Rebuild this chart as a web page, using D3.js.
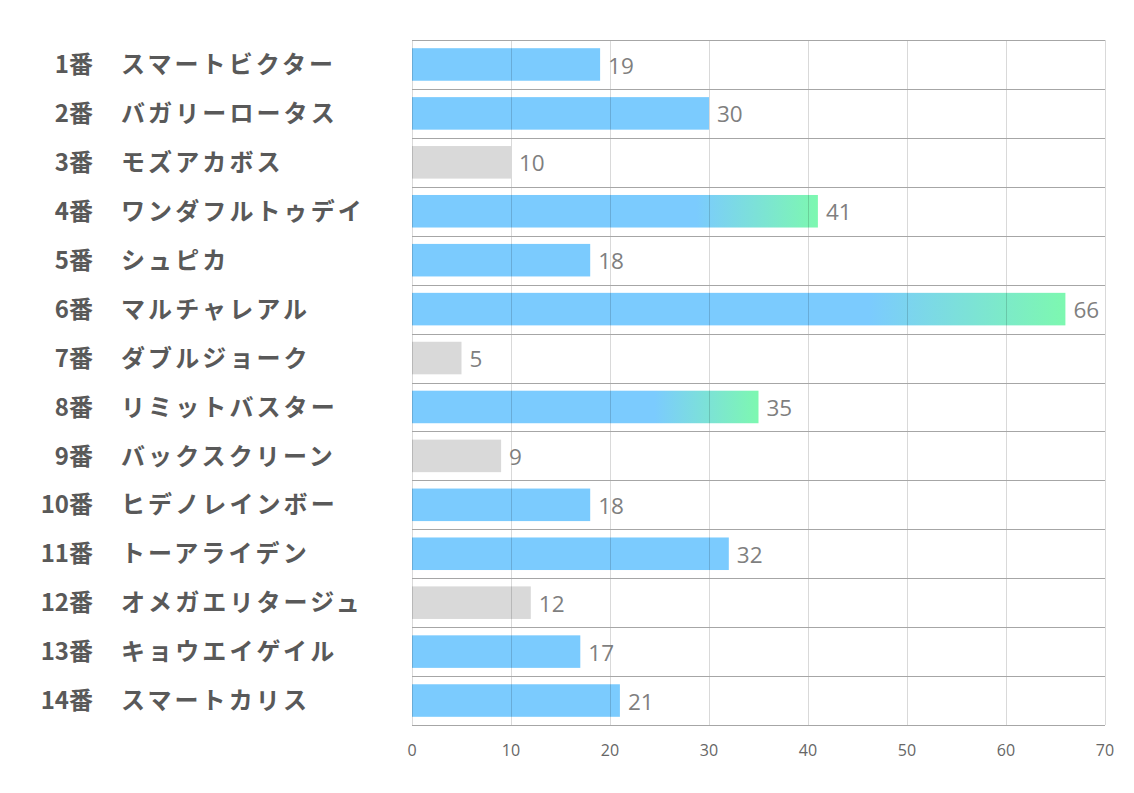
<!DOCTYPE html>
<html><head><meta charset="utf-8">
<script src="https://cdn.jsdelivr.net/npm/d3@7"></script>
<style>body{margin:0;background:#fff;} svg{display:block;}</style>
</head><body>
<svg id="chart" width="1134" height="793"></svg>
<script>
const numbers = ["1番","2番","3番","4番","5番","6番","7番","8番","9番","10番","11番","12番","13番","14番"];
const names = ["スマートビクター","バガリーロータス","モズアカボス","ワンダフルトゥデイ","シュピカ","マルチャレアル","ダブルジョーク","リミットバスター","バックスクリーン","ヒデノレインボー","トーアライデン","オメガエリタージュ","キョウエイゲイル","スマートカリス"];
const values = [19,30,10,41,18,66,5,35,9,18,32,12,17,21];
const barTypes = ["blue","blue","gray","grad","blue","grad","gray","grad","gray","blue","blue","gray","blue","blue"];
const xTicks = [0,10,20,30,40,50,60,70];

const svg = d3.select("#chart");
const L = 412, R = 1105, T = 40, B = 725;
const x = d3.scaleLinear().domain([0,70]).range([L,R]);
const y = d3.scaleBand().domain(d3.range(values.length)).range([T,B]).paddingInner(0.335).paddingOuter(0.1675);
const rows = d3.scaleBand().domain(d3.range(values.length)).range([T,B]);

const defs = svg.append("defs");
const grad = defs.append("linearGradient").attr("id","g").attr("x1","0").attr("x2","1").attr("y1","0").attr("y2","0");
grad.append("stop").attr("offset","0.7").attr("stop-color","#7bcbfe");
grad.append("stop").attr("offset","1").attr("stop-color","#7df8b0");

const colorFor = t => t==="gray" ? "#d9d9d9" : t==="grad" ? "url(#g)" : "#7bcbfe";

// bars
svg.append("g").selectAll("rect").data(values).join("rect")
  .attr("x", x(0)).attr("y",(d,i)=>y(i))
  .attr("width", d=>x(d)-x(0)).attr("height", y.bandwidth())
  .attr("fill",(d,i)=>colorFor(barTypes[i]));

// vertical gridlines
svg.append("g").selectAll("line").data(xTicks).join("line")
  .attr("x1",d=>x(d)).attr("x2",d=>x(d)).attr("y1",T).attr("y2",B)
  .attr("stroke","rgba(0,0,0,0.15)").attr("stroke-width",1).attr("shape-rendering","crispEdges");

// horizontal separators
const seps = d3.range(values.length+1).map(i=> i<values.length ? rows(i) : B);
svg.append("g").selectAll("line").data(seps).join("line")
  .attr("x1",L).attr("x2",R).attr("y1",d=>Math.round(d)+0.5).attr("y2",d=>Math.round(d)+0.5)
  .attr("stroke","#a6a6a6").attr("stroke-width",1);

// x axis tick labels
svg.append("g").selectAll("text").data(xTicks).join("text")
  .attr("x",d=>x(d)).attr("y",750).attr("dy","0.36em").attr("text-anchor","middle")
  .attr("font-family","'Open Sans','Noto Sans',sans-serif")
  .attr("font-size",16).attr("fill","#666666").text(d=>d);

// value labels
svg.append("g").selectAll("text").data(values).join("text")
  .attr("x",d=>x(d)+8).attr("y",(d,i)=>y(i)+y.bandwidth()/2+1).attr("dy","0.36em")
  .attr("font-family","'Open Sans','Noto Sans',sans-serif")
  .attr("font-size",22.5).attr("fill","#7f7f7f").text(d=>d);

// category labels
const lab = svg.append("g").attr("font-family","'Noto Sans CJK JP','Noto Sans',sans-serif")
  .attr("font-weight","bold").attr("fill","#595959").attr("font-size",24);
lab.selectAll("text.num").data(numbers).join("text").attr("class","num")
  .attr("x",93).attr("y",(d,i)=>rows(i)+rows.bandwidth()/2).attr("dy","0.36em")
  .attr("text-anchor","end").text(d=>d);
lab.selectAll("text.name").data(names).join("text").attr("class","name")
  .attr("x",121).attr("y",(d,i)=>rows(i)+rows.bandwidth()/2).attr("dy","0.36em")
  .attr("letter-spacing","3.1px").text(d=>d);
</script>
</body></html>
